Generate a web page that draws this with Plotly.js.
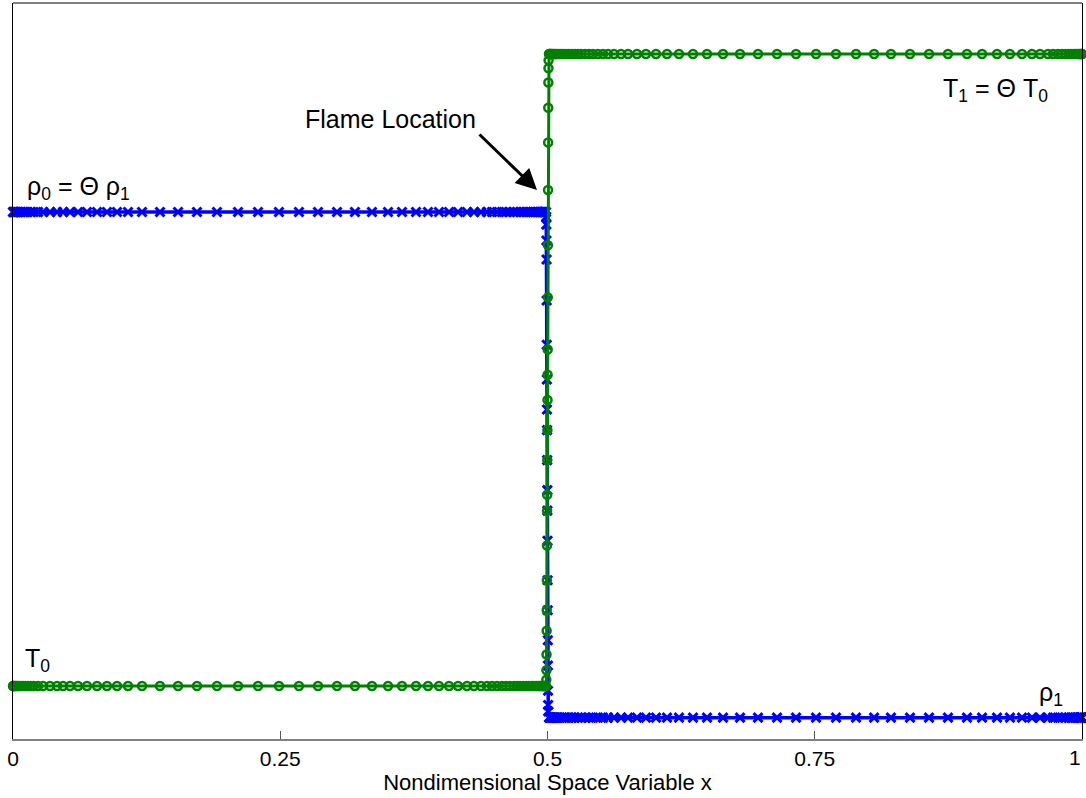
<!DOCTYPE html>
<html>
<head>
<meta charset="utf-8">
<script src="https://cdn.plot.ly/plotly-3.0.1.min.js"></script>
<style>html,body{margin:0;padding:0;background:#fff;}#chart{width:1086px;height:798px;}</style>
</head>
<body>
<div id="chart"></div>
<script>
// Grid points (nondimensional x)
const gridLeft = [0, 0.0003, 0.0007, 0.0014, 0.0022, 0.0033, 0.0045, 0.0059, 0.0075, 0.0094,
  0.0115, 0.0138, 0.0164, 0.0192, 0.0234, 0.0281, 0.0346, 0.0412, 0.0468, 0.0533,
  0.0608, 0.0692, 0.0786, 0.0879, 0.0973, 0.1076, 0.1207, 0.1375, 0.1544, 0.1721,
  0.1908, 0.2105, 0.2292, 0.2488, 0.2675, 0.2853, 0.3031, 0.3199, 0.3358, 0.3508,
  0.3639, 0.3770, 0.3882, 0.3985, 0.4079, 0.4163, 0.4247, 0.4312, 0.4378, 0.4434,
  0.4481, 0.4528, 0.4574, 0.4612, 0.4649, 0.4687, 0.4715, 0.4743, 0.4771, 0.4799,
  0.4822, 0.4846, 0.4864, 0.4883, 0.4900, 0.4915, 0.4928, 0.4939, 0.4949, 0.4958,
  0.4965, 0.4972, 0.4977, 0.4981, 0.4986];
const gridRight = [0.5014, 0.5019, 0.5023, 0.5028, 0.5035, 0.5042, 0.5051, 0.5061, 0.5072, 0.5085,
  0.5100, 0.5117, 0.5136, 0.5154, 0.5178, 0.5201, 0.5229, 0.5257, 0.5285, 0.5313,
  0.5351, 0.5388, 0.5426, 0.5472, 0.5519, 0.5566, 0.5622, 0.5688, 0.5753, 0.5837,
  0.5921, 0.6015, 0.6118, 0.6230, 0.6361, 0.6492, 0.6642, 0.6801, 0.6969, 0.7147,
  0.7325, 0.7512, 0.7699, 0.7886, 0.8055, 0.8213, 0.8391, 0.8569, 0.8746, 0.8924,
  0.9065, 0.9205, 0.9326, 0.9439, 0.9532, 0.9607, 0.9682, 0.9729, 0.9775, 0.9813,
  0.9846, 0.9874, 0.9897, 0.9918, 0.9936, 0.9953, 0.9967, 0.9978, 0.9988, 0.9994,
  0.9998, 1.0];

// Plateau levels (T1 = Theta*T0, rho0 = Theta*rho1, Theta ~ 5)
const T0 = 1.0, T1 = 5.0, rho0 = 4.0, rho1 = 0.8;

// Points inside the flame front
const frontX_T = [0.4989, 0.4990, 0.4991, 0.4992, 0.4993, 0.4994, 0.4995, 0.4996, 0.4997, 0.4998,
  0.4999, 0.5000, 0.5001, 0.5002, 0.5003, 0.5004, 0.5005, 0.5006, 0.5007, 0.5008, 0.5009, 0.5010];
const frontY_T = [1.04, 1.10, 1.20, 1.35, 1.48, 1.67, 1.89, 2.11, 2.21, 2.43,
  2.62, 2.81, 2.97, 3.13, 3.46, 3.79, 4.14, 4.44, 4.66, 4.82, 4.91, 4.96];
const frontX_rho = [0.4988, 0.4989, 0.4990, 0.4991, 0.4992, 0.4993, 0.4994, 0.4995, 0.4996, 0.4997,
  0.4998, 0.4999, 0.5000, 0.5001, 0.5002, 0.5003, 0.5004, 0.5005, 0.5006, 0.5007];
const frontY_rho = [3.97, 3.92, 3.82, 3.70, 3.44, 3.16, 2.94, 2.75, 2.62, 2.43,
  2.24, 2.11, 1.92, 1.67, 1.48, 1.29, 1.13, 0.97, 0.88, 0.84];

const xTicks = [0, 0.25, 0.5, 0.75, 1];
const xTickLabels = ['0', '0.25', '0.5', '0.75', ''];
const lastTickLabel = '1';

const xT = gridLeft.concat(frontX_T, gridRight);
const yT = gridLeft.map(() => T0).concat(frontY_T, gridRight.map(() => T1));
const xR = gridLeft.concat(frontX_rho, gridRight);
const yR = gridLeft.map(() => rho0).concat(frontY_rho, gridRight.map(() => rho1));

const FONT = 'Liberation Sans, Arial, sans-serif';
const ANN = {size: 25, family: FONT, color: '#000'};

const traces = [
  {x: xR, y: yR, type: 'scatter', mode: 'lines+markers', name: 'rho', cliponaxis: false,
   line: {color: '#0000FF', width: 3.5},
   marker: {symbol: 'x-thin-open', size: 9, color: '#0000FF', line: {color: '#0000FF', width: 3}}},
  {x: xT, y: yT, type: 'scatter', mode: 'lines+markers', name: 'T', cliponaxis: false,
   line: {color: '#008000', width: 3},
   marker: {symbol: 'circle-open', size: 8, color: '#008000', line: {color: '#008000', width: 2.5}}}
];

const layout = {
  width: 1086, height: 798,
  margin: {l: 13, r: 4, t: 3, b: 59},
  paper_bgcolor: '#fff', plot_bgcolor: '#fff',
  showlegend: false,
  font: {family: FONT, color: '#000'},
  xaxis: {
    range: [0, 1], tickvals: xTicks, ticktext: xTickLabels,
    ticks: 'inside', ticklen: 8, tickcolor: '#555', tickwidth: 1,
    showline: true, linecolor: '#808080', linewidth: 1.5,
    showgrid: false, zeroline: false,
    tickfont: {size: 21, family: FONT, color: '#000'},
    title: {text: 'Nondimensional Space Variable x', font: {size: 22, family: FONT, color: '#000'}, standoff: 1},
    automargin: false
  },
  yaxis: {
    range: [0.665, 5.323], showticklabels: false, ticks: '',
    showline: true, mirror: true, linecolor: '#000', linewidth: 1,
    showgrid: false, zeroline: false, automargin: false
  },
  shapes: [
    {type: 'line', xref: 'paper', yref: 'paper', x0: 0, x1: 1, y0: 1, y1: 1, line: {color: '#000', width: 1}}
  ],
  annotations: [
    {x: 1, y: -0.0245, xref: 'paper', yref: 'paper', text: lastTickLabel, showarrow: false,
     xanchor: 'right', yanchor: 'middle', xshift: 1, font: {size: 21, family: FONT, color: '#000'}},
    {x: 0.4902, y: 4.139, xref: 'x', yref: 'y', text: '', showarrow: true,
     ax: -59, ay: -57, arrowhead: 2, arrowsize: 1.4, arrowwidth: 3, arrowcolor: '#000'},
    {x: 0.3527, y: 4.589, xref: 'x', yref: 'y', text: 'Flame Location', showarrow: false,
     xanchor: 'center', yanchor: 'middle', font: ANN},
    {x: 0.0112, y: 4.15, xref: 'x', yref: 'y', text: 'ρ<sub>0</sub> = Θ ρ<sub>1</sub>', showarrow: false,
     xanchor: 'left', yanchor: 'middle', font: ANN},
    {x: 0.970, y: 4.77, xref: 'x', yref: 'y', text: 'T<sub>1</sub> = Θ T<sub>0</sub>', showarrow: false,
     xanchor: 'right', yanchor: 'middle', font: ANN},
    {x: 0.0094, y: 1.165, xref: 'x', yref: 'y', text: 'T<sub>0</sub>', showarrow: false,
     xanchor: 'left', yanchor: 'middle', font: ANN},
    {x: 0.984, y: 0.95, xref: 'x', yref: 'y', text: 'ρ<sub>1</sub>', showarrow: false,
     xanchor: 'right', yanchor: 'middle', font: ANN}
  ]
};

Plotly.newPlot('chart', traces, layout, {staticPlot: true, displayModeBar: false});
</script>
</body>
</html>
